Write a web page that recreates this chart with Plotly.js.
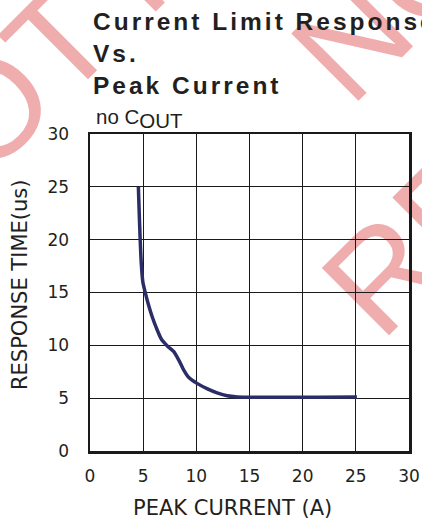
<!DOCTYPE html>
<html><head><meta charset="utf-8">
<script src="https://cdn.plot.ly/plotly-3.0.1.min.js"></script>
<style>
html,body{margin:0;padding:0;background:#fff;overflow:hidden;}
#chart{width:422px;height:521px;}
#chart .gtitle{letter-spacing:3px;}
</style>
</head><body><div id="chart"></div>
<script>
// ---- data ----
const peakCurrent = [4.55, 4.63, 4.72, 4.82, 4.97, 5.22, 5.54, 5.85, 6.26, 6.73, 7.32, 7.88, 8.35, 8.82, 9.29, 10.07, 11.0, 11.95, 12.9, 13.85, 25.1];
const responseTime = [25.0, 22.5, 20.0, 17.8, 16.0, 14.9, 13.7, 12.7, 11.6, 10.55, 9.9, 9.4, 8.6, 7.65, 6.95, 6.4, 5.9, 5.5, 5.22, 5.12, 5.12];
const xTickVals = [0, 5, 10, 15, 20, 25, 30];
const yTickVals = [0, 5, 10, 15, 20, 25, 30];
const chartTitle = 'Current Limit Response<br>Vs.<br>Peak Current';
const subtitleMain = 'no C';
const subtitleSub = 'OUT';
const xTitle = 'PEAK CURRENT (A)';
const yTitle = 'RESPONSE TIME(us)';
const watermarkLines = ['NOT RECOMMENDED', 'NOT RECOMMENDED', 'RECOMMENDED'];

// ---- layout geometry ----
const W = 422, H = 521, ML = 90, MR = 13, MT = 134, MB = 70;
const PW = W - ML - MR, PH = H - MT - MB;
const xp = px => (px - ML) / PW;
const yp = py => (H - MB - py) / PH;
const wmCenters = [[382, -301], [816, -443], [731, -93]];

const ink = '#231f20';
const trace = {
  x: peakCurrent, y: responseTime, type: 'scatter', mode: 'lines',
  line: {color: '#2b2e66', width: 3.5, shape: 'spline', smoothing: 0.6},
  hoverinfo: 'skip', showlegend: false
};

const shapes = watermarkLines.map((t, i) => {
  const [cx, cy] = wmCenters[i];
  return {
    type: 'line', xref: 'paper', yref: 'paper', layer: 'below',
    x0: xp(cx - 10), y0: yp(cy + 10), x1: xp(cx + 10), y1: yp(cy - 10),
    line: {color: 'rgba(0,0,0,0)', width: 1},
    label: {text: t, textangle: -45, textposition: 'middle', xanchor: 'center', yanchor: 'middle',
      font: {family: 'Liberation Sans, Arial, sans-serif', size: 138, color: '#efadad'}}
  };
});

const axisCommon = {
  range: [0, 30], showgrid: true, gridcolor: '#1a1a1a', gridwidth: 1,
  zeroline: false, showline: true, mirror: true, linecolor: '#1a1a1a', linewidth: 2.5,
  ticks: '', tickfont: {family: 'DejaVu Sans, sans-serif', size: 17, color: ink},
  fixedrange: true
};

const layout = {
  width: W, height: H,
  margin: {l: ML, r: MR, t: MT, b: MB, pad: 0},
  paper_bgcolor: 'rgba(0,0,0,0)', plot_bgcolor: 'rgba(0,0,0,0)',
  title: {text: chartTitle, xref: 'container', yref: 'container', x: 93 / W, xanchor: 'left',
    y: 1 - 30 / H, yanchor: 'top',
    font: {family: 'Liberation Sans, Arial, sans-serif', size: 24.5, weight: 700, color: ink}},
  xaxis: Object.assign({}, axisCommon, {tickvals: xTickVals, ticklabelstandoff: 8}),
  yaxis: Object.assign({}, axisCommon, {tickvals: yTickVals, ticklabelstandoff: 15}),
  shapes: shapes,
  annotations: [
    {text: subtitleMain + '<sub><span style="font-size:20.5px">' + subtitleSub + '</span></sub>',
      xref: 'paper', yref: 'paper', x: xp(94), y: yp(118), xanchor: 'left', yanchor: 'middle',
      showarrow: false, font: {family: 'Liberation Sans, Arial, sans-serif', size: 20.5, color: ink}},
    {text: xTitle, xref: 'paper', yref: 'paper', x: xp(232), y: yp(508), xanchor: 'center', yanchor: 'middle',
      showarrow: false, font: {family: 'DejaVu Sans, sans-serif', size: 21, color: ink}},
    {text: yTitle, xref: 'paper', yref: 'paper', x: xp(20), y: yp(285), xanchor: 'center', yanchor: 'middle',
      textangle: -90, showarrow: false, font: {family: 'DejaVu Sans, sans-serif', size: 21, color: ink}}
  ]
};

Plotly.newPlot('chart', [trace], layout, {staticPlot: true, displayModeBar: false});
</script>
</body></html>
